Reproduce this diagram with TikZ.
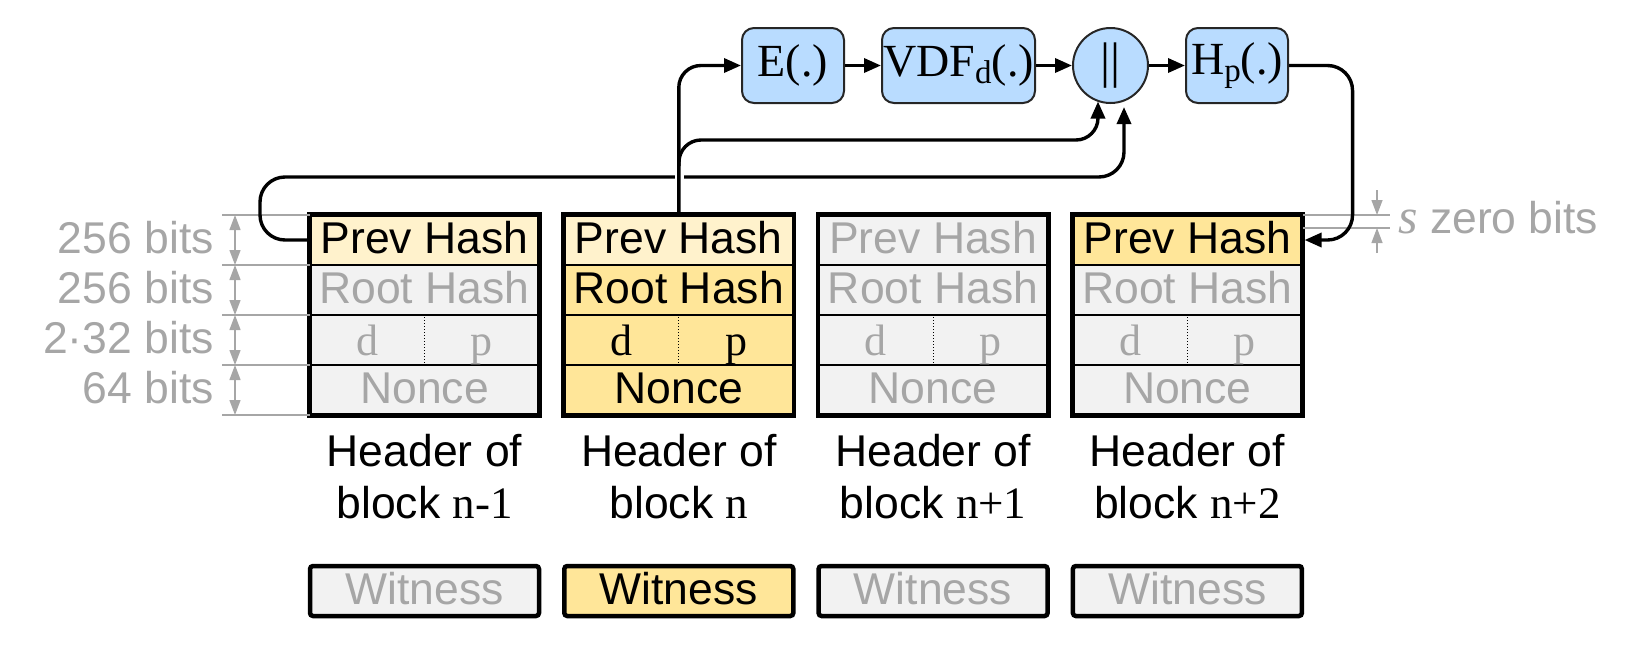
\documentclass[tikz,border=0pt]{standalone}
\usepackage{fontspec}
\setmainfont{Liberation Sans}
\newfontfamily\serif{Liberation Serif}
\usetikzlibrary{arrows.meta,calc}
\definecolor{creamc}{HTML}{FFF2CC}
\definecolor{goldc}{HTML}{FFE699}
\definecolor{greyf}{HTML}{F2F2F2}
\definecolor{greyt}{HTML}{A6A6A6}
\definecolor{bluef}{HTML}{B9DCFF}
\definecolor{blued}{HTML}{262626}
\begin{document}
\begin{tikzpicture}[x=1pt,y=-1pt,
  every node/.style={font=\fontsize{44.5}{52}\selectfont, inner sep=0pt},
  row/.style={draw=black, line width=1.3pt, minimum width=229pt, minimum height=50pt, text height=31pt, text depth=4pt},
  conn/.style={line width=3.4pt, rounded corners=22pt},
  tip/.style={-{Triangle[length=17pt,width=14pt]}},
  fbox/.style={draw=blued, line width=2pt, fill=bluef, rounded corners=12pt, minimum height=75pt, font=\serif\fontsize{46}{50}\selectfont},
  dimline/.style={draw=greyt, line width=1.3pt},
  dimarr/.style={greyt, line width=1.3pt, {Triangle[length=15pt,width=11pt]}-{Triangle[length=15pt,width=11pt]}},
  dimtip/.style={greyt, line width=1.3pt, -{Triangle[length=15pt,width=11pt]}},
  lbl/.style={text=greyt, text height=31pt, text depth=4pt},
  dpfont/.style={font=\serif\fontsize{44}{48}\selectfont}
]
\useasboundingbox (0,0) rectangle (1636,654);

% blocks
\foreach \i/\lab/\cP/\tP/\cO/\tO in {0/n-1/creamc/black/greyf/greyt, 1/n/creamc/black/goldc/black, 2/n+1/greyf/greyt/greyf/greyt, 3/n+2/goldc/black/greyf/greyt}{
  \pgfmathsetmacro\xc{424.5+254.3*\i}
  \node[row, fill=\cP, text=\tP] (ph\i) at (\xc,240) {Prev Hash};
  \node[row, fill=\cO, text=\tO] (rh\i) at (\xc,290) {Root Hash};
  \node[row, fill=\cO] (dp\i) at (\xc,340) {};
  \node[row, fill=\cO, text=\tO] (nc\i) at (\xc,390) {Nonce};
  \draw[dotted, line width=1pt] (dp\i.north) -- (dp\i.south);
  \node[text=\tO, dpfont, anchor=base] (d\i) at (\xc-57.25,355) {d};
  \node[text=\tO, dpfont, anchor=base] (p\i) at (\xc+57.25,355) {p};
  \draw[line width=4.5pt] (ph\i.north west) rectangle (nc\i.south east);
  \node[align=center] (hd\i) at (\xc,476.5) {Header of\\block {\serif\fontsize{45}{52}\selectfont\lab}};
  \node[row, line width=4.5pt, rounded corners=3pt, fill=\cO, text=\tO] (w\i) at (\xc,591) {Witness};
}

% left dimensions
\foreach \y in {215,265,315,365,415}
  \draw[dimline] (222,\y) -- (310,\y);
\draw[dimarr] (235,215) -- (235,265);
\draw[dimarr] (235,265) -- (235,315);
\draw[dimarr] (235,315) -- (235,365);
\draw[dimarr] (235,365) -- (235,415);
\node[lbl, anchor=east] (l1) at (214,240) {256 bits};
\node[lbl, anchor=east] (l2) at (214,290) {256 bits};
\node[lbl, anchor=east] (l3) at (214,340) {2·32 bits};
\node[lbl, anchor=east] (l4) at (214,390) {64 bits};

% s zero bits
\draw[dimline] (1303,215) -- (1390,215);
\draw[dimline] (1303,228) -- (1390,228);
\draw[dimtip] (1377,190) -- (1377,215);
\draw[dimtip] (1377,253) -- (1377,228);
\node[lbl, anchor=west] (sz) at (1398,219.5) {{\serif\itshape\fontsize{50}{52}\selectfont s} zero bits};

% function chain
\node[fbox, minimum width=102pt] (E) at (793,65.5) {E(.)};
\node[fbox, minimum width=153pt] (V) at (958.5,65.5) {VDF\raisebox{-7pt}{\serif\fontsize{33}{33}\selectfont d}(.)};
\node[circle, draw=blued, line width=2pt, fill=bluef, minimum size=75pt, font=\serif\fontsize{50}{50}\selectfont] (C) at (1110.5,65.5) {||};
\node[fbox, minimum width=102pt] (H) at (1237,65.5) {H\raisebox{-7pt}{\serif\fontsize{33}{33}\selectfont p}(.)};

\coordinate (cL) at ($(C.center)+(-12.5,36)$);
\coordinate (cR) at ($(C.center)+(13.5,41.5)$);
\coordinate (lowL) at (260,177);
\coordinate (br) at (679,166);
\coordinate (up) at (1098,140);

% lower connector from block n-1
\draw[conn, tip, rounded corners=25pt] (ph0.west) -| (lowL) -| (cR);
% gap at crossing
\draw[white, line width=9pt] (679,171) -- (679,183);
% main vertical from block n
\draw[conn, tip] (ph1.north) |- (E.west);
\draw[conn, tip] (br) |- (up) -- (cL);
\draw[conn, tip] (E) -- (V);
\draw[conn, tip] (V) -- (C);
\draw[conn, tip] (C) -- (H);
\draw[conn, tip, rounded corners=25pt, shorten >=2pt] (H.east) -| ([xshift=50pt]ph3.east) -- (ph3.east);
\end{tikzpicture}
\end{document}
